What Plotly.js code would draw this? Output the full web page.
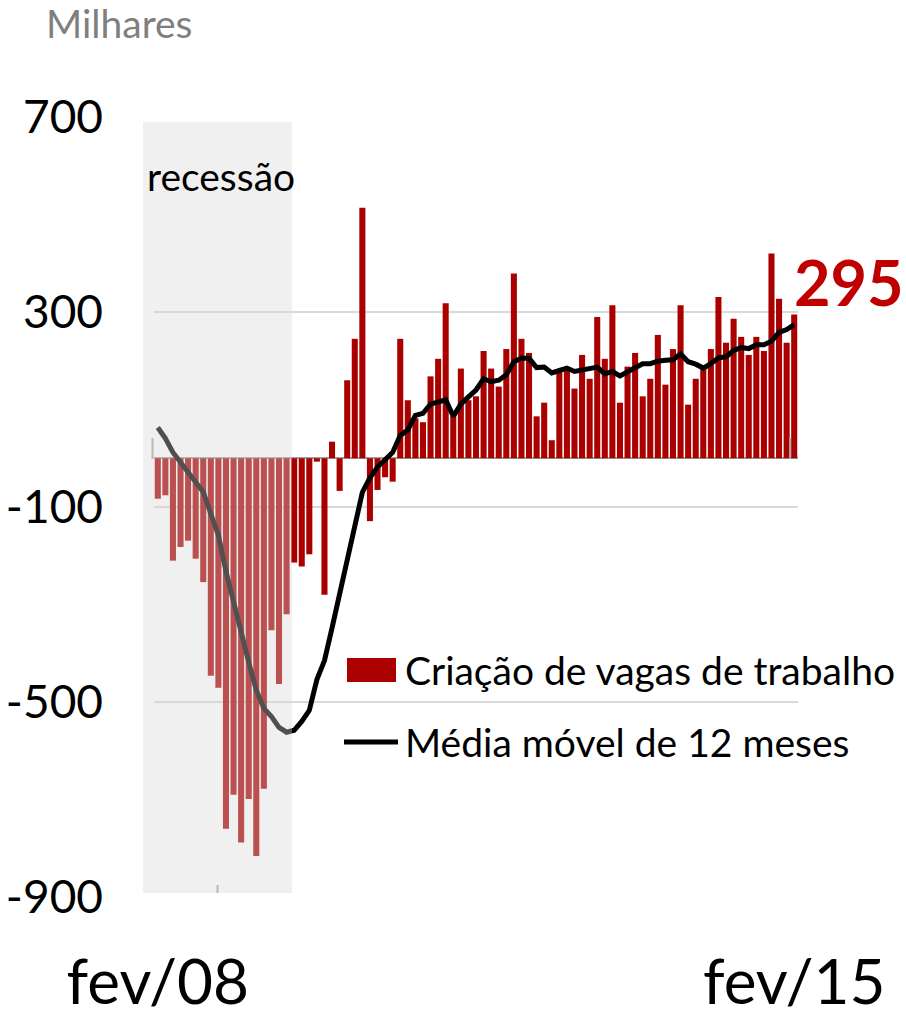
<!DOCTYPE html>
<html>
<head>
<meta charset="utf-8">
<script src="https://cdn.plot.ly/plotly-3.0.1.min.js"></script>
<style>html,body{margin:0;padding:0;background:#fff;}#chart{width:906px;height:1019px;}</style>
</head>
<body>
<div id="chart"></div>
<script>
// Month labels (pt-BR), Feb 2008 .. Feb 2015
const monthNames = ["jan","fev","mar","abr","mai","jun","jul","ago","set","out","nov","dez"];
const startYear = 2008, startMonth = 1, nMonths = 85;
const categories = [];
for (let i = 0; i < nMonths; i++) {
  const m = (startMonth + i) % 12;
  const y = startYear + Math.floor((startMonth + i) / 12);
  categories.push(monthNames[m] + "/" + String(y % 100).padStart(2, "0"));
}

// Monthly job creation (thousands)
const jobs = [-83,-76,-210,-182,-169,-206,-254,-446,-471,-760,
  -690,-788,-699,-816,-678,-353,-463,-320,-214,-222,
  -197,-7,-280,34,-67,160,245,514,-129,-65,
  -39,-48,245,119,82,74,168,204,318,86,
  184,119,127,220,184,147,224,379,245,216,
  86,114,37,178,182,143,212,163,290,204,
  314,114,188,216,127,163,253,151,224,314,
  110,163,188,224,331,237,286,249,212,249,
  220,420,327,237,295];

// 12-month moving average (thousands)
const movingAvg = [63,41,12,-8,-27,-48,-69,-114,-158,-232,
  -297,-363,-418,-476,-513,-530,-552,-562,-558,-540,
  -517,-454,-415,-348,-280,-210,-138,-70,-40,-18,
  -3,12,47,58,88,92,111,116,120,86,
  111,126,140,163,157,160,171,198,205,205,
  186,187,175,180,185,178,181,182,187,173,
  178,169,178,187,194,194,199,201,202,214,
  198,193,185,194,206,208,221,227,225,233,
  233,240,258,264,274];

const yTicks = [-900, -500, -100, 300, 700];
const yTickLabels = ["-900", "-500", "-100", "300", "700"];
const xTickLabels = ["fev/08", "fev/15"];
const seriesNames = ["Criação de vagas de trabalho", "Média móvel de 12 meses"];

const FONT = "Lato, 'Open Sans', sans-serif";
const RED = "#aa0000";

// plot area geometry (px)
const W = 906, H = 1019, L = 154, R = 108, T = 117, B = 122;
const PW = W - L - R, PH = H - T - B;
const px2paperX = x => (x - L) / PW;
const px2paperY = y => (H - B - y) / PH;

const traces = [
  {type: "bar", x: categories, y: jobs, name: seriesNames[0],
   marker: {color: RED}, hoverinfo: "x+y"},
  {type: "scatter", mode: "lines", x: categories, y: movingAvg, name: seriesNames[1],
   line: {color: "#000000", width: 5}, hoverinfo: "x+y"}
];

const shapes = [
  // small axis tick marks
  {type: "line", xref: "paper", yref: "paper", x0: px2paperX(152.5), x1: px2paperX(152.5),
   y0: px2paperY(438), y1: px2paperY(459), line: {color: "#a6a6a6", width: 2}, layer: "above"},
  {type: "line", xref: "paper", yref: "paper", x0: px2paperX(790), x1: px2paperX(790),
   y0: px2paperY(438), y1: px2paperY(459), line: {color: "#a6a6a6", width: 2}, layer: "above"},
  {type: "line", xref: "paper", yref: "paper", x0: px2paperX(217.5), x1: px2paperX(217.5),
   y0: px2paperY(885), y1: px2paperY(893), line: {color: "#a6a6a6", width: 2}, layer: "above"},
  // recession shading (semi-transparent overlay)
  {type: "rect", xref: "paper", yref: "paper", x0: px2paperX(143), x1: px2paperX(292),
   y0: px2paperY(893), y1: px2paperY(122), fillcolor: "rgba(214,214,214,0.373)",
   line: {width: 0}, layer: "above"},
  // legend swatches
  {type: "rect", xref: "paper", yref: "paper", x0: px2paperX(347), x1: px2paperX(396),
   y0: px2paperY(682), y1: px2paperY(658), fillcolor: RED, line: {width: 0}, layer: "above"},
  {type: "line", xref: "paper", yref: "paper", x0: px2paperX(344), x1: px2paperX(398),
   y0: px2paperY(742), y1: px2paperY(742), line: {color: "#000", width: 5}, layer: "above"}
];

const annotations = [
  {xref: "paper", yref: "paper", x: px2paperX(44), y: px2paperY(23), xanchor: "left", yanchor: "middle",
   text: "Milhares", showarrow: false, font: {family: FONT, size: 39, color: "#7f7f7f"}},
  {xref: "paper", yref: "paper", x: px2paperX(221), y: px2paperY(176), xanchor: "center", yanchor: "middle",
   text: "recessão", showarrow: false, font: {family: FONT, size: 39, color: "#000"}},
  {xref: "paper", yref: "paper", x: px2paperX(403), y: px2paperY(670), xanchor: "left", yanchor: "middle",
   text: seriesNames[0], showarrow: false, font: {family: FONT, size: 39, color: "#000"}},
  {xref: "paper", yref: "paper", x: px2paperX(403), y: px2paperY(742), xanchor: "left", yanchor: "middle",
   text: seriesNames[1], showarrow: false, font: {family: FONT, size: 39, color: "#000"}},
  {xref: "x", yref: "y", x: categories[categories.length - 1], y: jobs[jobs.length - 1],
   xanchor: "left", yanchor: "middle", xshift: -2, yshift: 33,
   text: "<b>" + jobs[jobs.length - 1] + "</b>", showarrow: false,
   font: {family: FONT, size: 63, color: "#c00000"}}
];

const layout = {
  width: W, height: H,
  margin: {l: L, r: R, t: T, b: B, pad: 0},
  paper_bgcolor: "#ffffff", plot_bgcolor: "#ffffff",
  showlegend: false,
  bargap: 0.2,
  xaxis: {
    type: "category", categoryorder: "array", categoryarray: categories,
    range: [-0.5, categories.length - 0.5],
    tickmode: "array", tickvals: [categories[0], categories[categories.length - 1]], ticktext: xTickLabels,
    showgrid: false, zeroline: false, showline: false, ticks: "",
    tickfont: {family: FONT, size: 62, color: "#000"}, ticklabelstandoff: 44,
    fixedrange: true
  },
  yaxis: {
    range: [-900, 700], tickmode: "array", tickvals: yTicks, ticktext: yTickLabels,
    showgrid: true, gridcolor: "#d9d9d9", gridwidth: 2,
    zeroline: true, zerolinecolor: "#a0a0a0", zerolinewidth: 2,
    showline: false, ticks: "",
    tickfont: {family: FONT, size: 46, color: "#000"}, ticklabelstandoff: 50,
    fixedrange: true
  },
  shapes: shapes,
  annotations: annotations
};

Plotly.newPlot("chart", traces, layout, {displayModeBar: false, staticPlot: true});
</script>
</body>
</html>
